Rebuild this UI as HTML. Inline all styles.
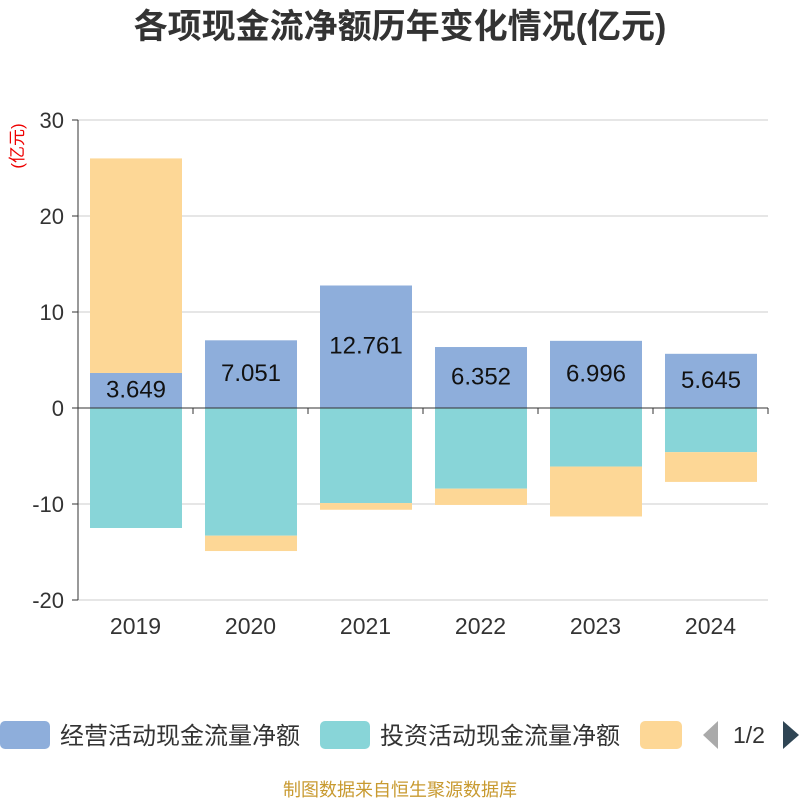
<!DOCTYPE html>
<html><head><meta charset="utf-8"><style>
body{margin:0;background:#fff;}
svg{display:block;font-family:"Liberation Sans","Noto Sans CJK SC",sans-serif;}
</style></head><body>
<svg id="c" width="800" height="800">
<text x="400" y="38" text-anchor="middle" font-size="34" font-weight="bold" fill="#333">各项现金流净额历年变化情况(亿元)</text>
<text transform="translate(23,146) rotate(-90)" text-anchor="middle" font-size="17" fill="#e00">(亿元)</text>
<g id="grid"></g><g id="bars"></g><g id="axes"></g>
<g>
<rect x="0" y="721" width="50" height="28" rx="5" fill="#8eaedb"/>
<text x="60" y="744" font-size="24" fill="#333">经营活动现金流量净额</text>
<rect x="320" y="721" width="50" height="28" rx="5" fill="#88d5d8"/>
<text x="380" y="744" font-size="24" fill="#333">投资活动现金流量净额</text>
<rect x="640" y="721" width="42" height="28" rx="5" fill="#fdd796"/>
<polygon points="718,721 718,749 703,735" fill="#aaa"/>
<text x="733" y="743" font-size="23" fill="#333">1/2</text>
<polygon points="783,721 783,749 799,735" fill="#2f4554"/>
</g>
<text x="400" y="796" text-anchor="middle" font-size="18" fill="#c89a30">制图数据来自恒生聚源数据库</text>
</svg>
<script>
const years=["2019","2020","2021","2022","2023","2024"];
const operating=[3.649,7.051,12.761,6.352,6.996,5.645];
const investing=[-12.5,-13.3,-9.9,-8.4,-6.1,-4.6];
const financing=[22.35,-1.6,-0.7,-1.7,-5.2,-3.1];
const yTicks=[30,20,10,0,-10,-20];
const NS="http://www.w3.org/2000/svg";
const x0=78,x1=768,cw=(x1-x0)/years.length;
const y=v=>408-v*9.6;
function mk(p,t,a){const e=document.createElementNS(NS,t);for(const k in a)e.setAttribute(k,a[k]);document.getElementById(p).appendChild(e);return e;}
yTicks.forEach(t=>{
 const g=mk('grid','line',{x1:x0,x2:x1,y1:y(t),y2:y(t),stroke:'#ccc'});
 
 
 const tk=mk('axes','line',{x1:x0-6,x2:x0,y1:y(t),y2:y(t),stroke:'#333'});
 
 
 const l=mk('axes','text',{x:x0-14,y:y(t)+8,'text-anchor':'end','font-size':22,fill:'#333'});
 l.textContent=t;
 
 
});
const ya=mk('axes','line',{x1:x0,x2:x0,y1:y(30),y2:y(-20),stroke:'#333'});


const xa=mk('axes','line',{x1:x0,x2:x1,y1:y(0),y2:y(0),stroke:'#333'});


for(let i=0;i<=years.length;i++){
 const t=mk('axes','line',{x1:x0+i*cw,x2:x0+i*cw,y1:y(0),y2:y(0)+6,stroke:'#333'});
 
 
}
function bar(a,b,xl,col,name){
 const r=mk('bars','rect',{x:xl,width:92,y:Math.min(y(a),y(b)),height:Math.abs(y(a)-y(b)),fill:col});
 
 
}
years.forEach((yr,i)=>{
 const xl=x0+i*cw+12;
 let pos=0,neg=0;
 const o=operating[i];
 if(o>=0){bar(0,o,xl,'#8eaedb','bar-operating-'+yr);pos=o;}else{bar(0,o,xl,'#8eaedb','bar-operating-'+yr);neg=o;}
 const v=investing[i];
 if(v>=0){bar(pos,pos+v,xl,'#88d5d8','bar-investing-'+yr);pos+=v;}else{bar(neg,neg+v,xl,'#88d5d8','bar-investing-'+yr);neg+=v;}
 const f=financing[i];
 if(f>=0){bar(pos,pos+f,xl,'#fdd796','bar-financing-'+yr);pos+=f;}else{bar(neg,neg+f,xl,'#fdd796','bar-financing-'+yr);neg+=f;}
 const lb=mk('bars','text',{x:xl+46,y:(y(0)+y(o))/2+7,'text-anchor':'middle','font-size':24,fill:'#111'});
 lb.textContent=o.toFixed(3);
 
 
 const xl2=mk('axes','text',{x:x0+i*cw+cw/2,y:634,'text-anchor':'middle','font-size':23,fill:'#333'});
 xl2.textContent=yr;
 
 
});
</script>
</body></html>
